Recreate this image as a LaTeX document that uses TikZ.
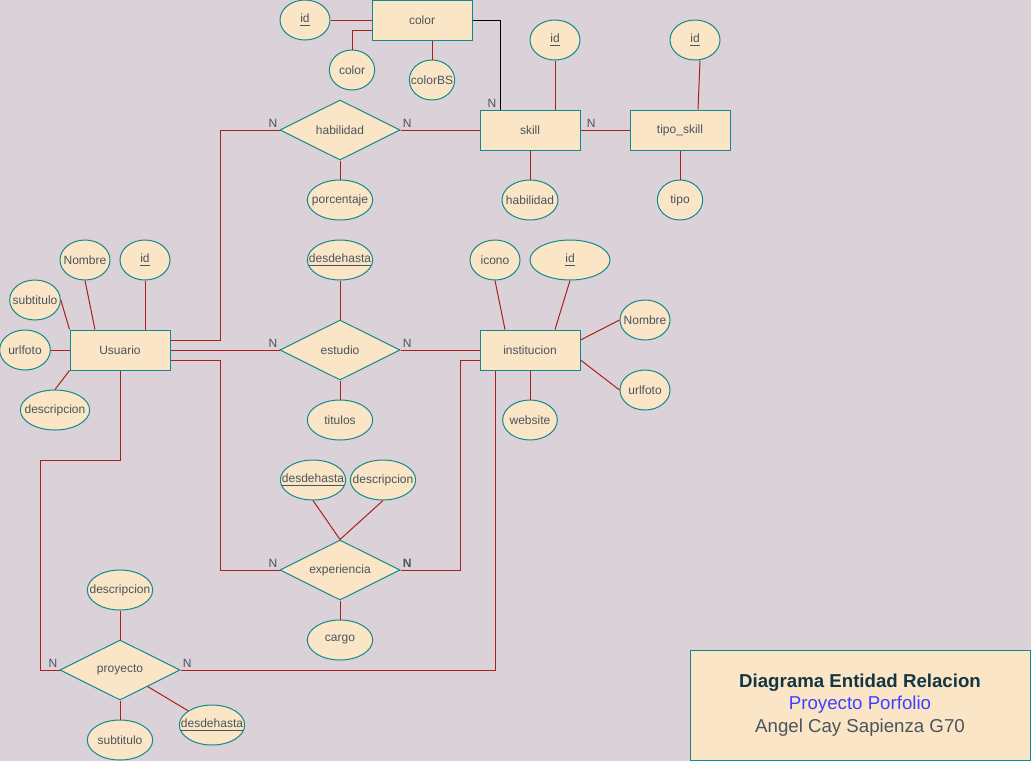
\documentclass[tikz,border=0pt]{standalone}
\usepackage{fontspec}
\setmainfont{Liberation Sans}
\usetikzlibrary{shapes.geometric}

\definecolor{fondo}{HTML}{DAD2D8}
\definecolor{relleno}{HTML}{FAE5C7}
\definecolor{borde}{HTML}{0F8B8D}
\definecolor{linea}{HTML}{A8201A}
\definecolor{texto}{HTML}{4A555B}
\definecolor{titulo}{HTML}{143642}
\definecolor{azul}{HTML}{4040FF}

% texto de ancho nulo, para que la elipse tenga su tamano fijo
\newcommand{\atr}[1]{\makebox[0pt]{#1}}

\tikzset{
  entidad/.style={draw=borde, fill=relleno, text=texto, line width=0.75pt,
    rectangle, minimum width=75pt, minimum height=30pt, font=\fontsize{9}{11}\selectfont},
  relacion/.style={draw=borde, fill=relleno, text=texto, line width=0.75pt,
    diamond, aspect=2, inner sep=0pt, minimum width=90pt, minimum height=45pt,
    font=\fontsize{9}{11}\selectfont},
  atributo/.style={draw=borde, fill=relleno, text=texto, line width=0.75pt,
    ellipse, inner sep=0pt, minimum height=30pt, font=\fontsize{9}{11}\selectfont},
  card/.style={text=texto, inner sep=1.5pt, font=\fontsize{9}{11}\selectfont},
  enlace/.style={draw=linea, line width=0.75pt},
}

\begin{document}
\begin{tikzpicture}[x=0.75pt, y=-0.75pt]
  \fill[fondo] (0,0) rectangle (1031,761);
  \useasboundingbox (0,0) rectangle (1031,761);

  % entidades
  \node[entidad] (color) at (422,20) {color};
  \node[entidad] (skill) at (530,130) {skill};
  \node[entidad] (tiposkill) at (680,130) {tipo\_skill};
  \node[entidad] (usuario) at (120,350) {Usuario};
  \node[entidad] (institucion) at (530,350) {institucion};

  % relaciones
  \node[relacion] (habilidad) at (340,130) {habilidad};
  \node[relacion] (estudio) at (340,350) {estudio};
  \node[relacion] (experiencia) at (340,570) {experiencia};
  \node[relacion] (proyecto) at (120,670) {proyecto};

  % atributos
  \node[atributo, minimum width=37.5pt] (colorid) at (305,20) {\atr{\underline{id}}};
  \node[atributo, minimum width=34pt] (colorcolor) at (352,70) {\atr{color}};
  \node[atributo, minimum width=34pt] (colorbs) at (432,80) {\atr{colorBS}};
  \node[atributo, minimum width=37.5pt] (skillid) at (555,40) {\atr{\underline{id}}};
  \node[atributo, minimum width=42pt] (skillhab) at (530,200) {\atr{habilidad}};
  \node[atributo, minimum width=37.5pt] (tipoid) at (695,40) {\atr{\underline{id}}};
  \node[atributo, minimum width=34pt] (tipo) at (680,200) {\atr{tipo}};
  \node[atributo, minimum width=49pt] (porcentaje) at (340,200) {\atr{porcentaje}};

  \node[atributo, minimum width=37.5pt] (unombre) at (85,260) {\atr{Nombre}};
  \node[atributo, minimum width=37.5pt] (uid) at (145,260) {\atr{\underline{id}}};
  \node[atributo, minimum width=38pt] (usubt) at (35,300) {\atr{subtitulo}};
  \node[atributo, minimum width=38pt] (uurl) at (25,350) {\atr{urlfoto}};
  \node[atributo, minimum width=52pt] (udesc) at (55,410) {\atr{descripcion}};

  \node[atributo, minimum width=49pt] (edesde) at (340,260) {\atr{\underline{desdehasta}}};
  \node[atributo, minimum width=49pt] (titulos) at (340,420) {\atr{titulos}};

  \node[atributo, minimum width=37.5pt] (icono) at (495,260) {\atr{icono}};
  \node[atributo, minimum width=60pt] (iid) at (570,260) {\atr{\underline{id}}};
  \node[atributo, minimum width=37.5pt] (inombre) at (645,320) {\atr{Nombre}};
  \node[atributo, minimum width=37.5pt] (iurl) at (645,390) {\atr{urlfoto}};
  \node[atributo, minimum width=41pt] (website) at (530,420) {\atr{website}};

  \node[atributo, minimum width=49pt] (xdesde) at (313,480) {\atr{\underline{desdehasta}}};
  \node[atributo, minimum width=49pt] (xdesc) at (383,480) {\atr{descripcion}};
  \node[atributo, minimum width=49pt] (cargo) at (340,640) {\atr{cargo}};

  \node[atributo, minimum width=49pt] (pdesc) at (120,590) {\atr{descripcion}};
  \node[atributo, minimum width=49pt] (psubt) at (120,740) {\atr{subtitulo}};
  \node[atributo, minimum width=49pt] (pdesde) at (212,725) {\atr{\underline{desdehasta}}};

  % atributos a entidades
  \draw[enlace] (colorid) -- (color);
  \draw[enlace] ([yshift=-7.5pt]color.west) -| (colorcolor.north);
  \draw[enlace] (colorbs.north) -- (colorbs.north |- color.south);
  \draw[enlace] (skillid.south) -- (skillid.south |- skill.north);
  \draw[enlace] (skill) -- (skillhab);
  \draw[enlace] ([xshift=3.75pt]tipoid.south) -- ([xshift=13.5pt]tiposkill.north);
  \draw[enlace] (tiposkill) -- (tipo);
  \draw[enlace] (habilidad) -- (porcentaje);

  \draw[enlace] (uid.south) -- (uid.south |- usuario.north);
  \draw[enlace] (unombre.south) -- ([xshift=-18.75pt]usuario.north);
  \draw[enlace] (usubt.east) -- (usuario.north west);
  \draw[enlace] (uurl) -- (usuario);
  \draw[enlace] (udesc.north) -- (usuario.south west);

  \draw[enlace] (edesde) -- (estudio);
  \draw[enlace] (estudio) -- (titulos);

  \draw[enlace] (icono.south) -- ([xshift=-18.75pt]institucion.north);
  \draw[enlace] (iid.south) -- ([xshift=18.75pt]institucion.north);
  \draw[enlace] ([yshift=7.5pt]institucion.east) -- (inombre.west);
  \draw[enlace] ([yshift=-7.5pt]institucion.east) -- (iurl.west);
  \draw[enlace] (institucion) -- (website);

  \draw[enlace] (xdesde.south) -- (experiencia.north);
  \draw[enlace] (xdesc.south) -- (experiencia.north);
  \draw[enlace] (experiencia) -- (cargo);

  \draw[enlace] (pdesc) -- (proyecto);
  \draw[enlace] (proyecto) -- (psubt);
  \draw[enlace] (proyecto) -- (pdesde);

  % relaciones
  \draw[black, line width=0.75pt] (color.east) -| ([xshift=-22.5pt]skill.north);
  \draw[enlace] (habilidad) -- (skill);
  \draw[enlace] (skill) -- (tiposkill);
  \draw[enlace] ([yshift=7.5pt]usuario.east) -- (220,340) |- (habilidad.west);
  \draw[enlace] (usuario) -- (estudio);
  \draw[enlace] ([yshift=-7.5pt]usuario.east) -- (220,360) |- (experiencia.west);
  \draw[enlace] (usuario.south) |- (40,460) |- (proyecto.west);
  \draw[enlace] (estudio) -- (institucion);
  \draw[enlace] ([yshift=-7.5pt]institucion.west) -| (460,570) -- (experiencia.east);
  \draw[enlace] ([xshift=-26.25pt]institucion.south) |- (proyecto.east);

  % cardinalidades
  \node[card, anchor=south east] (n1) at ([xshift=-1pt]skill.north -| 500,0) {N};
  \node[card, anchor=south east] (n2) at (habilidad.west) {N};
  \node[card, anchor=south west] (n3) at (habilidad.east) {N};
  \node[card, anchor=south west] (n4) at ([xshift=3pt]skill.east) {N};
  \node[card, anchor=south east] (n5) at (estudio.west) {N};
  \node[card, anchor=south west] (n6) at (estudio.east) {N};
  \node[card, anchor=south east] (n7) at (experiencia.west) {N};
  \node[card, anchor=south west, font=\fontsize{9}{11}\selectfont\bfseries] (n8) at (experiencia.east) {N};
  \node[card, anchor=south east] (n9) at (proyecto.west) {N};
  \node[card, anchor=south west] (n10) at (proyecto.east) {N};

  % leyenda
  \node[draw=borde, fill=relleno, line width=0.75pt, minimum width=255pt, minimum height=82.5pt,
    align=center, font=\fontsize{14}{17}\selectfont, text=texto] (leyenda) at (860,705)
    {{\color{titulo}\bfseries Diagrama Entidad Relacion}\\
     {\color{azul}Proyecto Porfolio}\\
     Angel Cay Sapienza G70};
\end{tikzpicture}
\end{document}
